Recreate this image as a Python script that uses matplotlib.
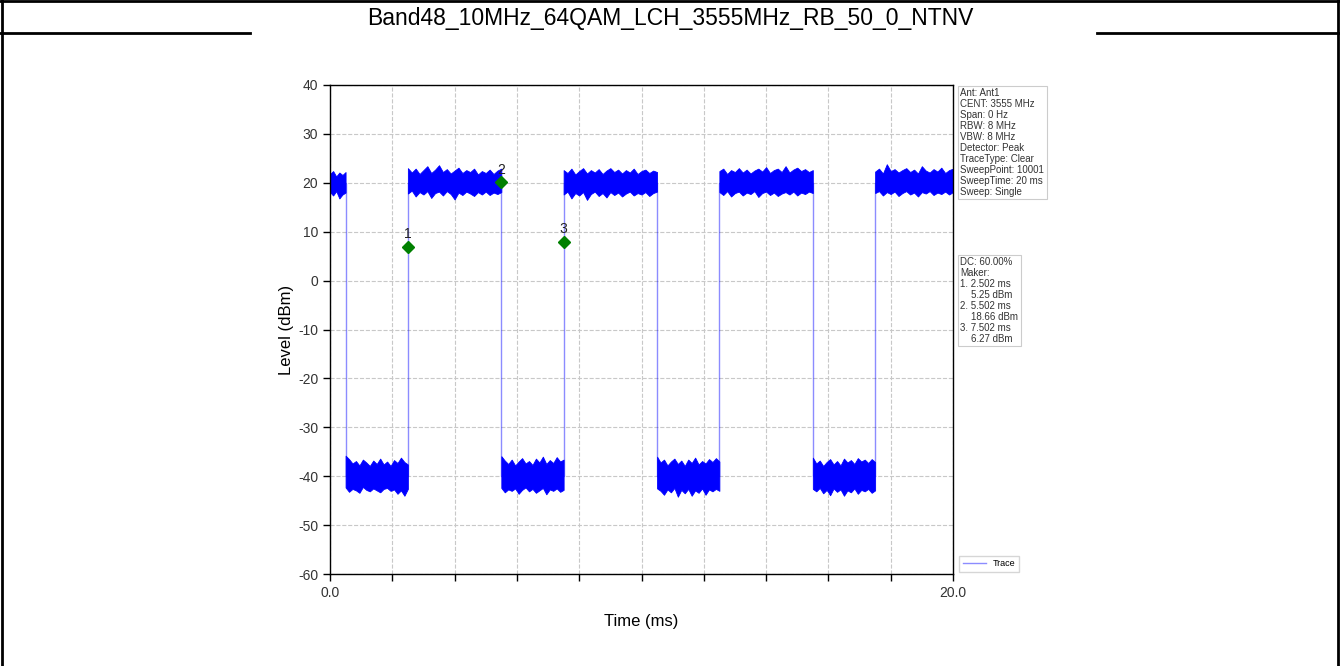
import matplotlib.pyplot as plt
import numpy as np

plt.rcParams['font.family'] = ['Liberation Sans', 'DejaVu Sans']
plt.rcParams['axes.unicode_minus'] = False

title = "Band48_10MHz_64QAM_LCH_3555MHz_RB_50_0_NTNV"

# burst edges (ms) and the level each span sits at
edge_times = [0.0, 0.5, 2.5, 5.5, 7.5, 10.5, 12.5, 15.5, 17.5, 20.0]
span_levels = [20, -40, 20, -40, 20, -40, 20, -40, 20]

# noise envelope of every span (dBm)
span_tops = [
    [21.8, 22.4, 21.3, 22.1, 21.6, 22.2],
    [-35.8, -36.5, -37.4, -36.9, -37.8, -36.6, -37.2, -37.9, -36.8, -37.5, -36.4,
     -37.6, -37.0, -37.9, -36.7, -37.3, -36.2, -37.1, -37.6],
    [23.0, 22.1, 22.9, 21.8, 22.6, 23.4, 22.0, 22.7, 23.6, 22.2, 22.8, 21.9, 22.5,
     23.1, 22.0, 22.6, 22.2, 22.9, 21.7, 22.4, 22.0, 22.7, 21.8, 22.5, 22.9],
    [-35.9, -36.8, -37.5, -36.6, -37.8, -37.0, -36.3, -37.4, -36.9, -37.7, -36.4,
     -37.2, -36.0, -37.5, -36.7, -37.3, -36.1, -37.0, -36.6],
    [22.6, 22.0, 22.9, 21.7, 22.4, 23.0, 21.9, 22.6, 22.1, 22.8, 21.8, 22.5, 23.0,
     22.2, 22.7, 21.9, 22.6, 22.1, 22.9, 21.8, 22.4, 22.7, 22.0, 22.5, 22.2],
    [-36.0, -37.2, -36.6, -37.8, -37.0, -36.4, -37.5, -36.8, -37.9, -36.6, -37.3,
     -36.2, -37.6, -36.9, -37.4, -36.5, -37.1, -36.3, -37.0],
    [22.4, 22.9, 21.8, 22.6, 22.2, 23.0, 22.1, 22.7, 21.9, 22.5, 22.9, 22.3, 23.2,
     22.0, 22.6, 22.9, 22.2, 23.4, 22.1, 22.7, 23.1, 22.4, 22.8, 22.2, 22.6],
    [-36.2, -37.4, -36.8, -37.9, -37.1, -36.5, -37.6, -36.9, -37.8, -36.4, -37.2,
     -36.7, -37.5, -36.3, -37.0, -36.6, -37.3, -36.5, -37.1],
    [22.3, 22.9, 21.9, 23.8, 22.4, 22.8, 22.1, 22.6, 23.0, 22.2, 22.7, 21.9, 23.4,
     22.5, 22.1, 22.8, 22.3, 23.1, 22.0, 22.6, 22.9],
]
span_bottoms = [
    [18.1, 17.4, 18.3, 16.8, 17.6, 18.0],
    [-42.3, -43.2, -42.6, -42.9, -43.4, -42.2, -42.8, -43.1, -42.5, -42.9, -43.3,
     -42.6, -42.4, -43.0, -42.7, -43.6, -42.9, -44.0, -42.6],
    [17.8, 18.4, 17.2, 18.1, 17.6, 18.3, 16.9, 17.9, 18.2, 17.4, 18.3, 17.7, 16.6,
     18.0, 17.5, 18.2, 17.8, 17.3, 18.1, 17.6, 18.2, 17.5, 18.0, 17.7, 18.1],
    [-42.4, -43.3, -42.7, -43.0, -42.5, -43.6, -42.8, -42.3, -43.1, -42.6, -43.4,
     -42.9, -42.4, -43.7, -42.7, -43.0, -42.5, -43.2, -42.8],
    [17.6, 18.2, 16.8, 17.9, 17.4, 18.1, 16.5, 17.7, 18.2, 17.3, 17.9, 17.0, 18.1,
     17.5, 18.0, 17.2, 17.8, 18.2, 17.4, 17.9, 17.6, 18.1, 17.3, 17.9, 18.2],
    [-42.5, -43.0, -43.8, -42.7, -43.3, -42.4, -44.2, -42.8, -43.5, -42.6, -44.0,
     -42.9, -43.4, -42.5, -43.8, -42.7, -43.1, -42.6, -43.0],
    [18.1, 17.5, 18.3, 17.2, 17.9, 18.2, 17.4, 18.0, 17.7, 18.3, 17.1, 17.9, 18.2,
     17.5, 18.0, 17.3, 17.8, 18.1, 17.6, 18.2, 17.4, 18.0, 17.7, 18.2, 17.9],
    [-42.6, -43.1, -42.4, -43.5, -42.8, -43.9, -42.5, -43.2, -42.7, -44.0, -42.9,
     -43.3, -42.5, -43.6, -42.8, -43.1, -42.6, -43.4, -42.9],
    [17.9, 18.3, 17.4, 18.1, 17.7, 18.2, 17.3, 17.9, 18.3, 17.6, 18.0, 17.2, 18.1,
     17.8, 18.3, 17.5, 18.0, 17.7, 18.2, 17.6, 18.1],
]

# markers as drawn on the chart, and the readout shown beside it
marker_times = [2.502, 5.502, 7.502]
marker_levels = [6.9, 20.1, 7.9]
marker_names = ["1", "2", "3"]

info_lines = ["Ant: Ant1", "CENT: 3555 MHz", "Span: 0 Hz", "RBW: 8 MHz", "VBW: 8 MHz",
              "Detector: Peak", "TraceType: Clear", "SweepPoint: 10001",
              "SweepTime: 20 ms", "Sweep: Single"]
marker_lines = ["DC: 60.00%", "Maker:", "1. 2.502 ms", "    5.25 dBm", "2. 5.502 ms",
                "    18.66 dBm", "3. 7.502 ms", "    6.27 dBm"]

x_ticks = [0, 2, 4, 6, 8, 10, 12, 14, 16, 18, 20]
x_tick_labels = ["0.0", "", "", "", "", "", "", "", "", "", "20.0"]
y_ticks = [-60, -50, -40, -30, -20, -10, 0, 10, 20, 30, 40]

fig = plt.figure(figsize=(13.4, 6.66), dpi=100)

# report frame around the picture
frame = dict(color="black", linewidth=2.0, transform=fig.transFigure, clip_on=False)
fig.add_artist(plt.Line2D([0, 1], [0.999, 0.999], **frame))
fig.add_artist(plt.Line2D([0.0015, 0.0015], [0, 1], **frame))
fig.add_artist(plt.Line2D([0.9985, 0.9985], [0, 1], **frame))
fig.add_artist(plt.Line2D([0, 250 / 1340], [1 - 33 / 666] * 2, **frame))
fig.add_artist(plt.Line2D([1097 / 1340, 1], [1 - 33 / 666] * 2, **frame))
fig.text(0.5, 1 - 18 / 666, title, ha="center", va="center", fontsize=16.5)

ax = fig.add_axes([330 / 1340, 1 - 574 / 666, 623 / 1340, 489 / 666])

for i in range(len(span_levels)):
    t = np.linspace(edge_times[i], edge_times[i + 1], len(span_tops[i]))
    ax.fill_between(t, span_bottoms[i], span_tops[i], color="blue", linewidth=0.6)

step_t = np.repeat(edge_times, 2)[1:-1]
step_y = np.repeat(span_levels, 2)
ax.plot(step_t, step_y, color="blue", linewidth=1.0, alpha=0.45, label="Trace")

ax.plot(marker_times, marker_levels, "D", color="green", markersize=6, zorder=5)
for t, v, name in zip(marker_times, marker_levels, marker_names):
    ax.annotate(name, (t, v), xytext=(0, 4), textcoords="offset points",
                ha="center", va="bottom", fontsize=10, color="#222222")

ax.set_xlim(0, 20)
ax.set_ylim(-60, 40)
ax.set_xticks(x_ticks)
ax.set_xticklabels(x_tick_labels)
ax.set_yticks(y_ticks)
ax.tick_params(labelsize=10, labelcolor="#333333", length=5, width=1)
ax.grid(True, linestyle="--", color="#c8c8c8", linewidth=0.8)
ax.set_axisbelow(True)
for s in ax.spines.values():
    s.set_linewidth(1.0)
ax.set_xlabel("Time (ms)", fontsize=12, labelpad=10)
ax.set_ylabel("Level (dBm)", fontsize=12, labelpad=3)

box = dict(boxstyle="square,pad=0.25", facecolor="white", edgecolor="#cccccc", linewidth=0.8)
ax.text(1.012, 0.994, "\n".join(info_lines), transform=ax.transAxes, ha="left", va="top",
        fontsize=7, linespacing=1.12, color="#333333", bbox=box)
ax.text(1.012, 0.648, "\n".join(marker_lines), transform=ax.transAxes, ha="left", va="top",
        fontsize=7, linespacing=1.12, color="#333333", bbox=box)

ax.legend(loc="lower left", bbox_to_anchor=(1.003, -0.005), fontsize=6.5,
          frameon=True, edgecolor="#cccccc", fancybox=False, handlelength=2.5)

fig.savefig("out.png", dpi=100)
